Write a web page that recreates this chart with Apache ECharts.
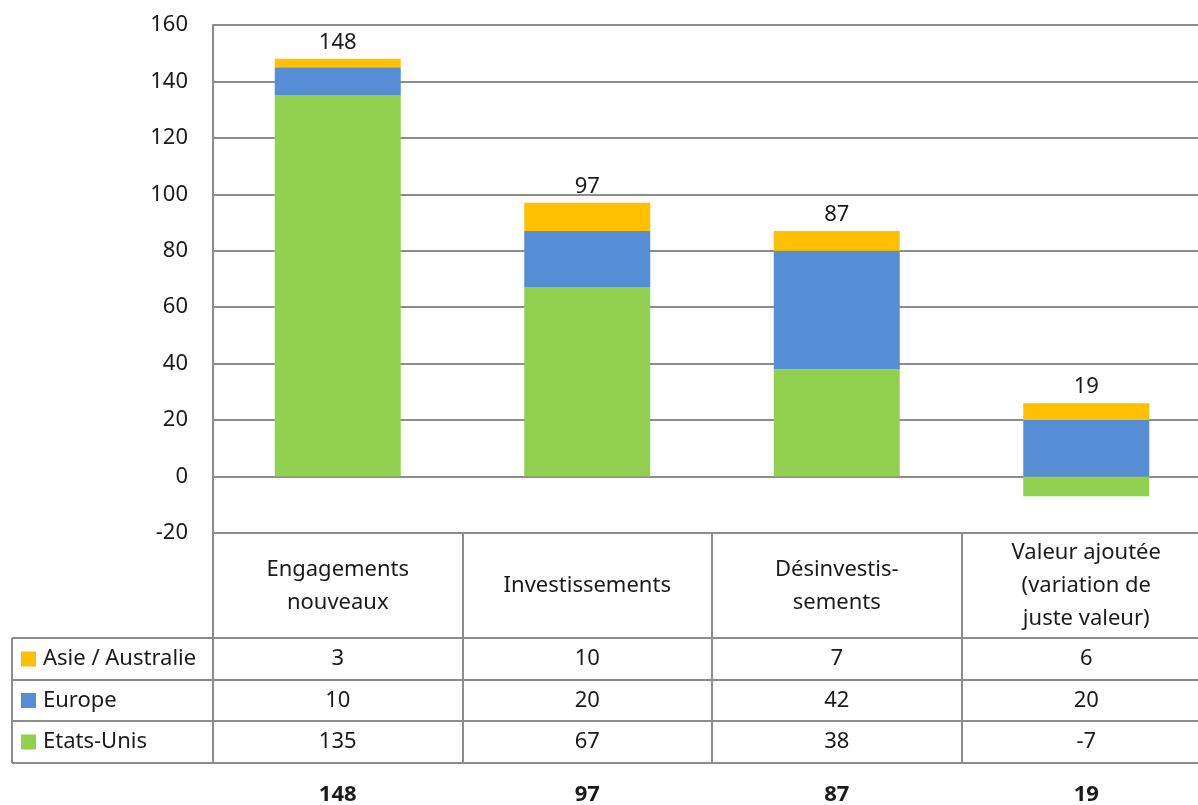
<!DOCTYPE html>
<html>
<head>
<meta charset="utf-8">
<script src="https://cdn.jsdelivr.net/npm/echarts@6/dist/echarts.min.js"></script>
<style>
  html, body { margin: 0; padding: 0; background: #fff; overflow: hidden; }
  /* the original picture is cropped on the right: last column runs past the edge */
  #chart { width: 1211px; height: 805px; }
</style>
</head>
<body>
<div id="chart"></div>
<script>
// data
const categories = ["Engagements\nnouveaux", "Investissements", "Désinvestis-\nsements", "Valeur ajoutée\n(variation de\njuste valeur)"];
const seriesNames = ["Asie / Australie", "Europe", "Etats-Unis"];
const asie = [3, 10, 7, 6];
const europe = [10, 20, 42, 20];
const usa = [135, 67, 38, -7];
const totals = [148, 97, 87, 19];
const yTicks = { min: -20, max: 160, interval: 20 };

const colors = { asie: "#FFC000", europe: "#558ED5", usa: "#92D050" };
const lineColor = "#8c8c8c";
const textColor = "#1a1a1a";
const font = "'Noto Sans', sans-serif";
const fs = 22;

// table rows (top to bottom)
const rows = [
  { name: seriesNames[0], values: asie, color: colors.asie },
  { name: seriesNames[1], values: europe, color: colors.europe },
  { name: seriesNames[2], values: usa, color: colors.usa }
];

const chart = echarts.init(document.getElementById("chart"), null, { renderer: "canvas" });

const baseOption = {
  animation: false,
  backgroundColor: "#fff",
  textStyle: { fontFamily: font, color: textColor },
  grid: { left: 213, right: 0, top: 25, bottom: 272, containLabel: false },
  xAxis: {
    type: "category",
    data: categories,
    axisLine: { show: false, onZero: false },
    axisTick: { show: true, alignWithLabel: false, length: 230, lineStyle: { color: lineColor, width: 2 } },
    axisLabel: {
      fontFamily: font, fontSize: fs, color: textColor, lineHeight: 33,
      verticalAlign: "middle", margin: 53, interval: 0
    },
    splitLine: { show: false }
  },
  yAxis: {
    type: "value",
    min: yTicks.min, max: yTicks.max, interval: yTicks.interval,
    axisLine: { show: true, lineStyle: { color: lineColor, width: 2 } },
    axisTick: { show: false },
    axisLabel: { fontFamily: font, fontSize: fs, color: textColor, margin: 25 },
    splitLine: { show: true, lineStyle: { color: lineColor, width: 2 } }
  },
  series: [
    { name: seriesNames[2], type: "bar", stack: "t", data: usa, barWidth: 126,
      itemStyle: { color: colors.usa } },
    { name: seriesNames[1], type: "bar", stack: "t", data: europe, barWidth: 126,
      itemStyle: { color: colors.europe } },
    { name: seriesNames[0], type: "bar", stack: "t", data: asie, barWidth: 126,
      itemStyle: { color: colors.asie },
      label: { show: true, position: "top", distance: 5, fontFamily: font, fontSize: fs, color: textColor,
        formatter: p => String(totals[p.dataIndex]) } }
  ]
};
chart.setOption(baseOption);

// data table under the chart
const tableLeft = 12, gridLeft = 213, rightEdge = 1211;
const rowTops = [638, 680, 721, 763];
const graphics = [];
const hLine = (x1, x2, y) => graphics.push({ type: "line", shape: { x1, y1: y, x2, y2: y },
  style: { stroke: lineColor, lineWidth: 2 }, silent: true });
const vLine = (x, y1, y2) => graphics.push({ type: "line", shape: { x1: x, y1, x2: x, y2 },
  style: { stroke: lineColor, lineWidth: 2 }, silent: true });

rowTops.forEach(y => hLine(tableLeft, rightEdge, y));
vLine(tableLeft, rowTops[0], rowTops[3]);
vLine(gridLeft, 533, rowTops[3]);

rows.forEach((r, i) => {
  const cy = (rowTops[i] + rowTops[i + 1]) / 2;
  graphics.push({ type: "rect", shape: { x: 21, y: cy - 7.5, width: 15, height: 15 }, style: { fill: r.color }, silent: true });
  graphics.push({ type: "text", x: 43, y: cy, style: { text: r.name, font: fs + "px " + font, fill: textColor,
    textAlign: "left", textVerticalAlign: "middle" }, silent: true });
  r.values.forEach((v, j) => {
    const cx = chart.convertToPixel({ xAxisIndex: 0 }, j);
    graphics.push({ type: "text", x: cx, y: cy, style: { text: String(v), font: fs + "px " + font, fill: textColor,
      textAlign: "center", textVerticalAlign: "middle" }, silent: true });
  });
});
totals.forEach((v, j) => {
  const cx = chart.convertToPixel({ xAxisIndex: 0 }, j);
  graphics.push({ type: "text", x: cx, y: 795, style: { text: String(v), font: "bold " + fs + "px " + font, fill: textColor,
    textAlign: "center", textVerticalAlign: "middle" }, silent: true });
});

chart.setOption({ graphic: graphics });
</script>
</body>
</html>
